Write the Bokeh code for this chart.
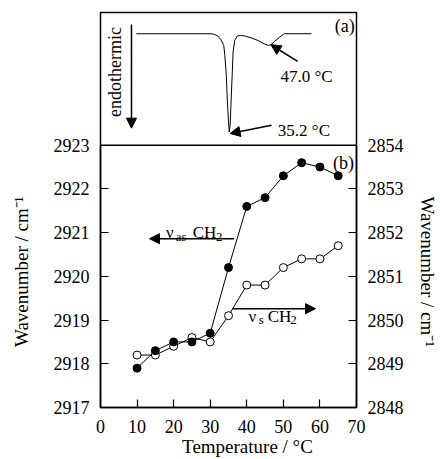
import math
from bokeh.plotting import figure
from bokeh.models import Range1d, LinearAxis, FixedTicker, Label, Arrow, NormalHead, Span
from bokeh.embed import file_html
from bokeh.resources import INLINE

# ---- data ----
temperature = [10, 15, 20, 25, 30, 35, 40, 45, 50, 55, 60, 65]
nu_as_ch2 = [2917.9, 2918.3, 2918.5, 2918.5, 2918.7, 2920.2, 2921.6, 2921.8, 2922.3, 2922.6, 2922.5, 2922.3]
nu_s_ch2 = [2849.2, 2849.2, 2849.4, 2849.6, 2849.5, 2850.1, 2850.8, 2850.8, 2851.2, 2851.4, 2851.4, 2851.7]

dsc_temp = [9.8, 30.3, 31.2, 32.1, 32.9, 33.7, 34.0, 34.4, 34.7, 35.0, 35.2, 35.45, 35.7, 36.0,
            36.25, 36.7, 37.4, 38.3, 39.6, 41.4, 43.2, 44.7, 45.9, 46.6, 47.6, 49.0, 50.0, 50.3, 57.7]
dsc_heat = [0.0, 0.0, -0.007, -0.024, -0.058, -0.119, -0.221, -0.424, -0.695, -0.898, -1.0, -0.932,
            -0.695, -0.424, -0.187, -0.068, -0.024, -0.017, -0.024, -0.045, -0.071, -0.102, -0.119,
            -0.112, -0.078, -0.035, -0.007, 0.0, 0.0]

x_ticks = [0, 10, 20, 30, 40, 50, 60, 70]
left_ticks = [2917, 2918, 2919, 2920, 2921, 2922, 2923]
right_ticks = [2848, 2849, 2850, 2851, 2852, 2853, 2854]

FONT = "Liberation Serif"
NBSP = "\u00a0"

# one frame holding both panels: lower part (b) in wavenumbers, upper part (a) DSC
Y_TOP = 2923 + 133 / (263 / 6)
p = figure(width=440, height=459, x_range=Range1d(0, 70), y_range=Range1d(2917, Y_TOP),
           output_backend="svg", toolbar_location=None,
           min_border_left=100, min_border_right=78, min_border_top=12, min_border_bottom=51)
p.extra_y_ranges = {
    "right": Range1d(2848, 2848 + (Y_TOP - 2917)),
    "dsc": Range1d(0.2165 - 396 / 98.4, 0.2165),
}
p.add_layout(LinearAxis(y_range_name="right"), "right")
p.xgrid.visible = False
p.ygrid.visible = False
p.outline_line_color = "black"
p.outline_line_width = 1.5
p.background_fill_color = "white"
p.border_fill_color = "white"

p.xaxis.ticker = FixedTicker(ticks=x_ticks)
p.yaxis[0].ticker = FixedTicker(ticks=left_ticks)
p.yaxis[0].bounds = (2917, 2923)
p.yaxis[1].ticker = FixedTicker(ticks=right_ticks)
p.yaxis[1].bounds = (2848, 2854)

for ax in p.xaxis + p.yaxis:
    ax.axis_line_color = "black"
    ax.axis_line_width = 1.5
    ax.major_tick_line_color = "black"
    ax.major_tick_line_width = 1.2
    ax.major_tick_in = 8
    ax.major_tick_out = 0
    ax.minor_tick_line_color = None
    ax.major_label_text_font = FONT
    ax.major_label_text_font_size = "18px"
    ax.major_label_text_color = "black"
    ax.major_label_standoff = 11
    ax.axis_label_text_font = FONT
    ax.axis_label_text_font_size = "19px"
    ax.axis_label_text_font_style = "normal"
    ax.axis_label_text_color = "black"
p.xaxis.major_label_standoff = 12

# axis titles (non-breaking padding shifts them to where the original centres them)
p.xaxis.axis_label = NBSP * 8 + "Temperature / °C"
p.xaxis.axis_label_standoff = 0
p.yaxis[0].axis_label = "Wavenumber / cm⁻¹" + NBSP * 26
p.yaxis[0].axis_label_standoff = 19
p.yaxis[1].axis_label = NBSP * 26 + "Wavenumber / cm⁻¹"
p.yaxis[1].axis_label_standoff = 10

# separator between panel (a) and panel (b)
p.add_layout(Span(location=2923, dimension="width", line_color="black", line_width=1.5))

def arrow(x0, y0, x1, y1, rng="default"):
    p.add_layout(Arrow(end=NormalHead(size=10, fill_color="black", line_color="black"),
                       x_start=x0, y_start=y0, x_end=x1, y_end=y1, y_range_name=rng,
                       line_color="black", line_width=1.5))

def lab(x, y, t, size="17px", rng="default", **kw):
    kw.setdefault("text_baseline", "alphabetic")
    p.add_layout(Label(x=x, y=y, text=t, text_font=FONT, text_font_size=size, y_range_name=rng,
                       text_color="black", **kw))

# ---- panel (a): DSC ----
p.line(dsc_temp, dsc_heat, y_range_name="dsc", line_color="black", line_width=1)

arrow(8.47, 0.095, 8.47, -0.962, "dsc")
lab(4.05, -0.39, "endothermic", size="18px", rng="dsc", text_align="center",
    text_baseline="middle", angle=math.pi / 2)
lab(69.5, 0.074, "(a)", size="18px", rng="dsc", text_align="right")
lab(49.2, -0.434, "47.0 °C", rng="dsc")
arrow(53.9, -0.281, 46.6, -0.112, "dsc")
lab(48.5, -0.983, "35.2 °C", rng="dsc")
arrow(46.75, -0.932, 35.45, -1.016, "dsc")

# ---- panel (b): IR wavenumbers ----
p.line(temperature, nu_s_ch2, y_range_name="right", line_color="black", line_width=1)
p.line(temperature, nu_as_ch2, line_color="black", line_width=1)
p.scatter(temperature, nu_s_ch2, y_range_name="right", marker="circle", size=8,
          fill_color="white", line_color="black", line_width=1)
p.scatter(temperature, nu_as_ch2, marker="circle", size=8,
          fill_color="black", line_color="black", line_width=1)

lab(17.9, 2921.01, "ν")
lab(20.6, 2920.92, "as", size="13px")
lab(25.2, 2921.01, "CH")
lab(31.6, 2920.90, "2", size="13px")
arrow(36.5, 2920.86, 13.4, 2920.86)

lab(40.5, 2919.09, "ν")
lab(43.3, 2919.01, "s", size="13px")
lab(45.7, 2919.09, "CH")
lab(51.9, 2918.99, "2", size="13px")
arrow(36.1, 2919.26, 58.8, 2919.26)

lab(69.3, 2922.59, "(b)", size="18px", text_align="right")

open("out.html", "w").write(file_html(p, INLINE))
